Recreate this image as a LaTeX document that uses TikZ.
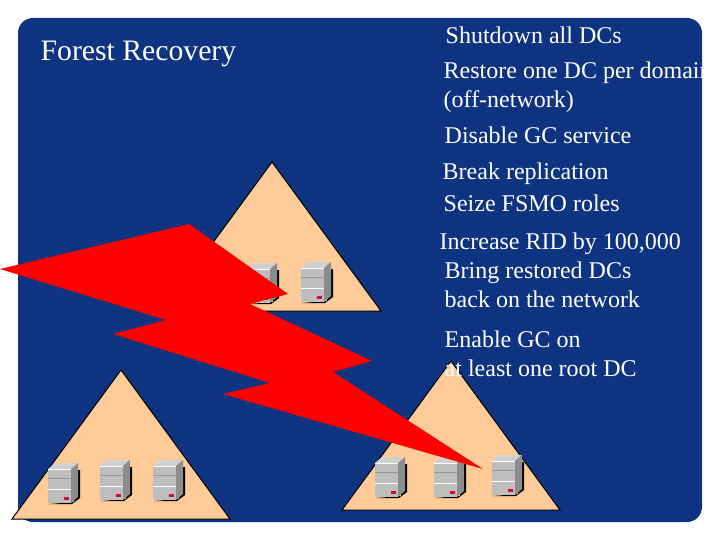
\documentclass[tikz,border=0pt]{standalone}
\usepackage{fontspec}
\setmainfont{Liberation Serif}
\definecolor{panelblue}{HTML}{0E3380}
\definecolor{peach}{HTML}{FFCC99}
\definecolor{boltred}{HTML}{FF0000}
\definecolor{srvfront}{HTML}{BEBEBE}
\definecolor{srvtop}{HTML}{D0D0D0}
\definecolor{srvside}{HTML}{8C8C8C}
\definecolor{srvled}{HTML}{CC1030}
\tikzset{
  x=1pt,y=-1pt,
  body/.style={anchor=base west,inner sep=0pt,text=white,font=\fontsize{24}{26}\selectfont},
  heading/.style={anchor=base west,inner sep=0pt,text=white,font=\fontsize{29.7}{32}\selectfont},
  tri/.style={fill=peach,draw=black,line width=1pt,line join=miter},
  server/.pic={
    \fill[black] (1,1) -- (24,1) -- (32,-5) -- (32,-33) -- (26,-33) -- (26,-1) -- cycle;
    \fill[srvfront] (0,0) rectangle (23,-34);
    \fill[srvtop] (0,-34) -- (7,-40) -- (30,-40) -- (23,-34) -- cycle;
    \fill[srvside] (23,0) -- (30,-6) -- (30,-40) -- (23,-34) -- cycle;
    \draw[white,line width=0.9pt] (0,-34) -- (23,-34);
    \draw[white,line width=0.9pt] (0,-14) -- (23,-14);
    \draw[srvfront!80!black,line width=0.6pt] (0,-25) -- (23,-25);
    \fill[srvled] (16,-6) rectangle (21,-3);
  }
}
\begin{document}
\begin{tikzpicture}
\useasboundingbox (0,0) rectangle (720,540);
\fill[white] (0,0) rectangle (720,540);
\fill[panelblue,rounded corners=15pt] (18,18) rectangle (702,522);

\begin{scope}
\clip[rounded corners=15pt] (18,18) rectangle (702,522);
\node[heading] (title) at (40.5,61) {Forest Recovery};
\node[body] (t1) at (445.5,43.5) {Shutdown all DCs};
\node[body] (t2) at (443.5,78.5) {Restore one DC per domain};
\node[body] (t3) at (443.5,107.5) {(off-network)};
\node[body] (t4) at (444.5,144) {Disable GC service};
\node[body] (t5) at (442.5,179.5) {Break replication};
\node[body] (t6) at (443.5,211.5) {Seize FSMO roles};
\node[body] (t7) at (439.5,249.5) {Increase RID by 100,000};
\node[body] (t8) at (444.5,278.5) {Bring restored DCs};
\node[body] (t9) at (444.5,307.5) {back on the network};
\node[body] (t10) at (444.5,347.5) {Enable GC on};
\end{scope}

\draw[tri] (272,162) -- (381,311) -- (163,311) -- cycle;
\draw[tri] (121,370) -- (230,519) -- (12,519) -- cycle;
\draw[tri] (451,361) -- (560,510) -- (342,510) -- cycle;
\node[body] (t11) at (444.5,376.5) {at least one root DC};

\pic at (247,303) {server};
\pic at (301,302) {server};
\pic at (48,503) {server};
\pic at (100,500) {server};
\pic at (153,500) {server};
\pic at (375,497) {server};
\pic at (434,497) {server};
\pic at (492,495) {server};

\fill[boltred] (0,269) -- (189,224) -- (288,294) -- (250,304) -- (372,361) -- (333,372)
  -- (483,469) -- (223,394) -- (270,383) -- (113,334) -- (166,320) -- cycle;
\end{tikzpicture}
\end{document}
